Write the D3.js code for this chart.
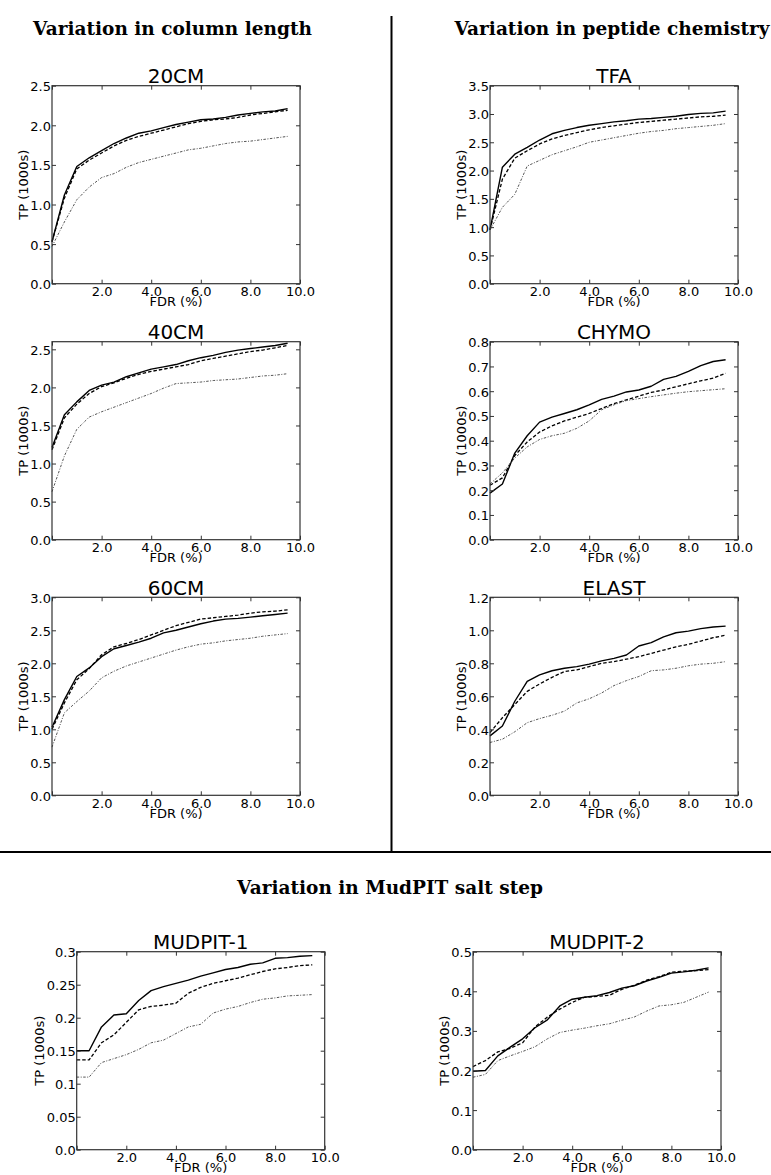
<!DOCTYPE html>
<html>
<head>
<meta charset="utf-8">
<script src="https://cdn.jsdelivr.net/npm/d3@7"></script>
<style>
  html, body { margin: 0; padding: 0; background: #fff; }
  svg { display: block; }
  .tick text { font-family: "DejaVu Sans", sans-serif; font-size: 13px; fill: #000; }
  .tick line { stroke: #333; stroke-width: 1; }
</style>
</head>
<body>
<svg id="chart" width="771" height="1175"></svg>
<script>
// FDR sampling points (%), shared by every panel
const fdr = [0, 0.5, 1, 1.5, 2, 2.5, 3, 3.5, 4, 4.5, 5, 5.5, 6, 6.5, 7, 7.5, 8, 8.5, 9, 9.5];

// x axis ticks / labels (shared)
const xTicks = [0, 2, 4, 6, 8, 10];
const xTickLabels = ["", "2.0", "4.0", "6.0", "8.0", "10.0"];

// ---- 20CM ----
const cm20Solid  = [0.53, 1.12, 1.48, 1.59, 1.68, 1.77, 1.84, 1.90, 1.93, 1.97, 2.01, 2.04, 2.07, 2.08, 2.10, 2.13, 2.15, 2.17, 2.18, 2.21];
const cm20Dashed = [0.53, 1.08, 1.45, 1.56, 1.65, 1.74, 1.81, 1.86, 1.90, 1.94, 1.98, 2.02, 2.05, 2.07, 2.08, 2.10, 2.13, 2.15, 2.17, 2.19];
const cm20Dotted = [0.47, 0.78, 1.06, 1.22, 1.34, 1.39, 1.47, 1.53, 1.57, 1.61, 1.65, 1.69, 1.71, 1.74, 1.77, 1.79, 1.80, 1.82, 1.84, 1.86];
const cm20YTicks = [0, 0.5, 1.0, 1.5, 2.0, 2.5];
const cm20YLabels = ["0.0", "0.5", "1.0", "1.5", "2.0", "2.5"];

// ---- 40CM ----
const cm40Solid  = [1.21, 1.64, 1.81, 1.96, 2.03, 2.07, 2.14, 2.19, 2.24, 2.27, 2.30, 2.35, 2.39, 2.42, 2.46, 2.49, 2.51, 2.53, 2.55, 2.58];
const cm40Dashed = [1.18, 1.60, 1.78, 1.92, 2.01, 2.06, 2.12, 2.17, 2.21, 2.24, 2.27, 2.30, 2.35, 2.38, 2.41, 2.44, 2.47, 2.49, 2.52, 2.55];
const cm40Dotted = [0.63, 1.10, 1.45, 1.61, 1.68, 1.74, 1.80, 1.86, 1.92, 1.99, 2.05, 2.06, 2.07, 2.09, 2.10, 2.11, 2.13, 2.15, 2.16, 2.18];
const cm40YTicks = [0, 0.5, 1.0, 1.5, 2.0, 2.5];
const cm40YLabels = ["0.0", "0.5", "1.0", "1.5", "2.0", "2.5"];

// ---- 60CM ----
const cm60Solid  = [1.03, 1.45, 1.80, 1.93, 2.10, 2.22, 2.27, 2.32, 2.38, 2.46, 2.50, 2.55, 2.60, 2.64, 2.67, 2.68, 2.70, 2.72, 2.74, 2.76];
const cm60Dashed = [1.00, 1.40, 1.75, 1.92, 2.13, 2.25, 2.30, 2.36, 2.43, 2.50, 2.57, 2.62, 2.67, 2.69, 2.71, 2.73, 2.76, 2.78, 2.79, 2.81];
const cm60Dotted = [0.73, 1.25, 1.42, 1.58, 1.78, 1.88, 1.96, 2.02, 2.08, 2.14, 2.20, 2.25, 2.29, 2.31, 2.34, 2.36, 2.38, 2.41, 2.43, 2.45];
const cm60YTicks = [0, 0.5, 1.0, 1.5, 2.0, 2.5, 3.0];
const cm60YLabels = ["0.0", "0.5", "1.0", "1.5", "2.0", "2.5", "3.0"];

// ---- TFA ----
const tfaSolid  = [0.95, 2.06, 2.29, 2.41, 2.54, 2.65, 2.71, 2.76, 2.80, 2.83, 2.86, 2.88, 2.91, 2.92, 2.94, 2.96, 2.99, 3.01, 3.02, 3.05];
const tfaDashed = [0.95, 1.85, 2.22, 2.35, 2.47, 2.56, 2.62, 2.67, 2.72, 2.76, 2.79, 2.82, 2.85, 2.87, 2.89, 2.91, 2.93, 2.95, 2.96, 2.98];
const tfaDotted = [0.95, 1.35, 1.58, 2.08, 2.18, 2.28, 2.35, 2.42, 2.50, 2.54, 2.58, 2.62, 2.66, 2.69, 2.71, 2.74, 2.76, 2.78, 2.80, 2.83];
const tfaYTicks = [0, 0.5, 1.0, 1.5, 2.0, 2.5, 3.0, 3.5];
const tfaYLabels = ["0.0", "0.5", "1.0", "1.5", "2.0", "2.5", "3.0", "3.5"];

// ---- CHYMO ----
const chymoSolid  = [0.188, 0.225, 0.350, 0.420, 0.475, 0.495, 0.510, 0.525, 0.545, 0.567, 0.580, 0.597, 0.605, 0.620, 0.648, 0.660, 0.680, 0.703, 0.720, 0.727];
const chymoDashed = [0.220, 0.250, 0.340, 0.395, 0.435, 0.460, 0.480, 0.495, 0.510, 0.530, 0.550, 0.565, 0.580, 0.595, 0.605, 0.618, 0.630, 0.642, 0.653, 0.672];
const chymoDotted = [0.225, 0.270, 0.330, 0.375, 0.405, 0.420, 0.430, 0.450, 0.480, 0.525, 0.545, 0.562, 0.570, 0.578, 0.585, 0.592, 0.598, 0.602, 0.606, 0.610];
const chymoYTicks = [0, 0.1, 0.2, 0.3, 0.4, 0.5, 0.6, 0.7, 0.8];
const chymoYLabels = ["0.0", "0.1", "0.2", "0.3", "0.4", "0.5", "0.6", "0.7", "0.8"];

// ---- ELAST ----
const elastSolid  = [0.36, 0.42, 0.57, 0.69, 0.73, 0.755, 0.77, 0.78, 0.795, 0.815, 0.83, 0.85, 0.905, 0.925, 0.96, 0.985, 0.995, 1.01, 1.02, 1.025];
const elastDashed = [0.38, 0.47, 0.55, 0.63, 0.675, 0.715, 0.75, 0.76, 0.78, 0.80, 0.81, 0.825, 0.84, 0.86, 0.88, 0.90, 0.915, 0.935, 0.955, 0.97];
const elastDotted = [0.32, 0.34, 0.385, 0.44, 0.465, 0.485, 0.51, 0.56, 0.585, 0.62, 0.665, 0.695, 0.72, 0.755, 0.76, 0.77, 0.785, 0.795, 0.80, 0.81];
const elastYTicks = [0, 0.2, 0.4, 0.6, 0.8, 1.0, 1.2];
const elastYLabels = ["0.0", "0.2", "0.4", "0.6", "0.8", "1.0", "1.2"];

// ---- MUDPIT-1 ----
const mud1Solid  = [0.150, 0.150, 0.186, 0.204, 0.206, 0.226, 0.241, 0.247, 0.252, 0.257, 0.263, 0.268, 0.273, 0.276, 0.281, 0.283, 0.290, 0.291, 0.293, 0.294];
const mud1Dashed = [0.136, 0.136, 0.162, 0.174, 0.193, 0.212, 0.217, 0.219, 0.222, 0.237, 0.246, 0.252, 0.256, 0.260, 0.265, 0.270, 0.274, 0.276, 0.279, 0.280];
const mud1Dotted = [0.110, 0.110, 0.132, 0.138, 0.144, 0.152, 0.162, 0.166, 0.176, 0.186, 0.190, 0.207, 0.213, 0.217, 0.223, 0.228, 0.230, 0.233, 0.234, 0.235];
const mud1YTicks = [0, 0.05, 0.1, 0.15, 0.2, 0.25, 0.3];
const mud1YLabels = ["0.0", "0.05", "0.1", "0.15", "0.2", "0.25", "0.3"];

// ---- MUDPIT-2 ----
const mud2Solid  = [0.198, 0.200, 0.237, 0.259, 0.280, 0.308, 0.328, 0.363, 0.380, 0.385, 0.389, 0.397, 0.408, 0.414, 0.426, 0.435, 0.446, 0.449, 0.453, 0.459];
const mud2Dashed = [0.210, 0.225, 0.247, 0.256, 0.270, 0.310, 0.335, 0.355, 0.372, 0.385, 0.387, 0.390, 0.405, 0.415, 0.428, 0.437, 0.448, 0.451, 0.452, 0.455];
const mud2Dotted = [0.183, 0.190, 0.225, 0.237, 0.248, 0.260, 0.280, 0.296, 0.302, 0.307, 0.313, 0.318, 0.327, 0.335, 0.350, 0.363, 0.366, 0.372, 0.385, 0.398];
const mud2YTicks = [0, 0.1, 0.2, 0.3, 0.4, 0.5];
const mud2YLabels = ["0.0", "0.1", "0.2", "0.3", "0.4", "0.5"];

// Section headings
const headings = ["Variation in column length", "Variation in peptide chemistry", "Variation in MudPIT salt step"];

// Panel table built from the arrays above
const panels = [
  { title: "20CM",     x: 52,  y: 85.7,  ymax: 2.5, yt: cm20YTicks,  yl: cm20YLabels,  s: [cm20Solid, cm20Dashed, cm20Dotted] },
  { title: "40CM",     x: 52,  y: 341.7, ymax: 2.6, yt: cm40YTicks,  yl: cm40YLabels,  s: [cm40Solid, cm40Dashed, cm40Dotted] },
  { title: "60CM",     x: 52,  y: 597.3, ymax: 3.0, yt: cm60YTicks,  yl: cm60YLabels,  s: [cm60Solid, cm60Dashed, cm60Dotted] },
  { title: "TFA",      x: 490, y: 85.7,  ymax: 3.5, yt: tfaYTicks,   yl: tfaYLabels,   s: [tfaSolid, tfaDashed, tfaDotted] },
  { title: "CHYMO",    x: 490, y: 341.7, ymax: 0.8, yt: chymoYTicks, yl: chymoYLabels, s: [chymoSolid, chymoDashed, chymoDotted] },
  { title: "ELAST",    x: 490, y: 597.3, ymax: 1.2, yt: elastYTicks, yl: elastYLabels, s: [elastSolid, elastDashed, elastDotted] },
  { title: "MUDPIT-1", x: 76.7, y: 951.7, ymax: 0.3, yt: mud1YTicks,  yl: mud1YLabels,  s: [mud1Solid, mud1Dashed, mud1Dotted] },
  { title: "MUDPIT-2", x: 473, y: 951.7, ymax: 0.5, yt: mud2YTicks,  yl: mud2YLabels,  s: [mud2Solid, mud2Dashed, mud2Dotted] }
];

const PW = 248, PH = 198;
const lineStyles = [
  { stroke: "#000", width: 1.4, dash: null },
  { stroke: "#000", width: 1.3, dash: "3.5,2" },
  { stroke: "#555", width: 1.0, dash: "2.5,1.5,1,1.5" }
];

const svg = d3.select("#chart");

// Dividers between sections
svg.append("line").attr("x1", 391.5).attr("x2", 391.5).attr("y1", 16).attr("y2", 852)
  .attr("stroke", "#000").attr("stroke-width", 2);
svg.append("line").attr("x1", 0).attr("x2", 771).attr("y1", 852).attr("y2", 852)
  .attr("stroke", "#000").attr("stroke-width", 2);

// Section headings
const headPos = [[172.5, 35], [612, 35], [390, 894]];
headings.forEach((h, i) => {
  svg.append("text")
    .attr("x", headPos[i][0]).attr("y", headPos[i][1])
    .attr("text-anchor", "middle")
    .attr("font-family", "'DejaVu Serif', serif")
    .attr("font-weight", "bold")
    .attr("font-size", 18.5)
    .attr("fill", "#000")
    .text(h);
});

panels.forEach(p => {
  const x = d3.scaleLinear().domain([0, 10]).range([0, PW]);
  const y = d3.scaleLinear().domain([0, p.ymax]).range([PH, 0]);
  const g = svg.append("g").attr("transform", `translate(${p.x},${p.y})`);

  // data lines
  p.s.forEach((vals, k) => {
    const st = lineStyles[k];
    const line = d3.line().x((d, i) => x(fdr[i])).y(d => y(d));
    g.append("path").datum(vals)
      .attr("d", line)
      .attr("fill", "none")
      .attr("stroke", st.stroke)
      .attr("stroke-width", st.width)
      .attr("stroke-dasharray", st.dash)
      .attr("stroke-linejoin", "round");
  });

  // axes: ticks point inward on all four sides
  const bottom = g.append("g").attr("transform", `translate(0,${PH})`)
    .call(d3.axisBottom(x).tickValues(xTicks).tickSizeInner(-4).tickSizeOuter(0).tickPadding(3)
      .tickFormat((d, i) => xTickLabels[i]));
  const left = g.append("g")
    .call(d3.axisLeft(y).tickValues(p.yt).tickSizeInner(-4).tickSizeOuter(0).tickPadding(1)
      .tickFormat((d, i) => p.yl[i]));
  const top = g.append("g")
    .call(d3.axisTop(x).tickValues(xTicks).tickSizeInner(-4).tickSizeOuter(0).tickFormat(""));
  const right = g.append("g").attr("transform", `translate(${PW},0)`)
    .call(d3.axisRight(y).tickValues(p.yt).tickSizeInner(-4).tickSizeOuter(0).tickFormat(""));
  [bottom, left, top, right].forEach(a => a.select(".domain").remove());
  left.selectAll(".tick text").attr("dy", "0.38em");

  // widest y tick label decides how far out the axis title sits
  let maxW = 0;
  left.selectAll(".tick text").each(function () { maxW = Math.max(maxW, this.getComputedTextLength()); });

  // frame
  g.append("rect").attr("x", 0).attr("y", 0).attr("width", PW).attr("height", PH)
    .attr("fill", "none").attr("stroke", "#333").attr("stroke-width", 1.2);

  // title and axis labels
  g.append("text").attr("x", PW / 2).attr("y", -2.5).attr("text-anchor", "middle")
    .attr("font-family", "'DejaVu Sans', sans-serif").attr("font-size", 20).attr("fill", "#000")
    .text(p.title);
  g.append("text").attr("x", PW / 2).attr("y", PH + 22.5).attr("text-anchor", "middle")
    .attr("font-family", "'DejaVu Sans', sans-serif").attr("font-size", 13).attr("fill", "#000")
    .text("FDR (%)");
  g.append("text")
    .attr("transform", `translate(${-(maxW + 3.5)},${PH / 2}) rotate(-90)`)
    .attr("text-anchor", "middle")
    .attr("font-family", "'DejaVu Sans', sans-serif").attr("font-size", 13).attr("fill", "#000")
    .text("TP (1000s)");
});
</script>
</body>
</html>
